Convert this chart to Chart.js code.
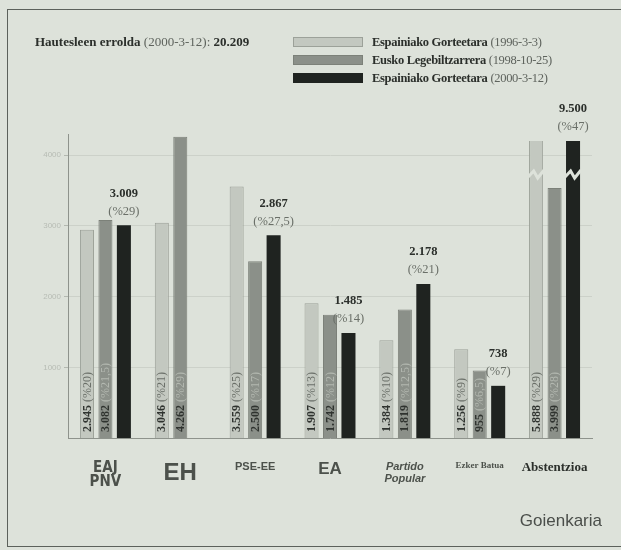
<!DOCTYPE html>
<html>
<head>
<meta charset="utf-8">
<script src="https://cdn.jsdelivr.net/npm/chart.js@4/dist/chart.umd.min.js"></script>
<style>
  html, body { margin: 0; padding: 0; }
  body { width: 621px; height: 550px; overflow: hidden; background: #dde2da; position: relative; font-family: 'Liberation Serif', serif; color: #2b2f2b; }
  #frame { position: absolute; left: 7px; top: 9px; width: 700px; height: 536px; border: 1px solid #5c615b; border-right: none; }
  #wrap { position: absolute; left: 0; top: 0; width: 621px; height: 550px; }
  #title { position: absolute; left: 35px; top: 34px; font-size: 13px; white-space: nowrap; }
  #legend { position: absolute; left: 293px; top: 33px; font-size: 12.5px; letter-spacing: -0.3px; }
  .row { height: 18px; display: flex; align-items: center; white-space: nowrap; }
  .box { width: 70px; height: 10px; margin-right: 9px; box-sizing: border-box; }
  b { font-weight: bold; }
  .soft { color: #5e635d; }
  #source { position: absolute; right: 19px; top: 511px; font-family: 'Liberation Sans', sans-serif; font-size: 17px; color: #4a4e4a; }
</style>
</head>
<body>
<div id="frame"></div>
<div id="wrap"><canvas id="chart" width="621" height="550"></canvas></div>
<div id="title"><b>Hautesleen errolda</b> <span class="soft">(2000-3-12):</span> <b>20.209</b></div>
<div id="legend"></div>
<div id="source">Goienkaria</div>
<script>
// zerrendak: alderdiak eta hauteskundeak
const categories = ['EAJ-PNV', 'EH', 'PSE-EE', 'EA', 'PP', 'EB', 'Abstentzioa'];
const tickLabels = [['EAJ', 'PNV'], ['EH'], ['PSE-EE'], ['EA'], ['Partido', 'Popular'], ['Ezker Batua'], ['Abstentzioa']];
const seriesNames = ['Espainiako Gorteetara', 'Eusko Legebiltzarrera', 'Espainiako Gorteetara'];
const seriesDates = ['(1996-3-3)', '(1998-10-25)', '(2000-3-12)'];

const votes1996 = [2945, 3046, 3559, 1907, 1384, 1256, 5888];
const votes1998 = [3082, 4262, 2500, 1742, 1819, 955, 3999];
const votes2000 = [3009, null, 2867, 1485, 2178, 738, 9500];

const pct1996 = ['(%20)', '(%21)', '(%25)', '(%13)', '(%10)', '(%9)', '(%29)'];
const pct1998 = ['(%21,5)', '(%29)', '(%17)', '(%12)', '(%12,5)', '(%6,5)', '(%28)'];
const pct2000 = ['(%29)', '', '(%27,5)', '(%14)', '(%21)', '(%7)', '(%47)'];

const yTickValues = [1000, 2000, 3000, 4000];

const fills = ['#c3c8c0', '#8b9089', '#1f2320'];
const borders = ['#9ca199', '#7c8179', '#1f2320'];
const bg = '#dde2da';

const allVotes = [votes1996, votes1998, votes2000];
const allPct = [pct1996, pct1998, pct2000];
const absIdx = categories.length - 1;

// legenda
const legend = document.getElementById('legend');
seriesNames.forEach((name, i) => {
    const row = document.createElement('div');
    row.className = 'row';
    row.innerHTML = `<div class="box" style="background:${fills[i]};border:1px solid ${borders[i]}"></div>` +
        `<b>${name}</b>&nbsp;<span class="soft">${seriesDates[i]}</span>`;
    legend.appendChild(row);
});

function fmt(v) {
    return v.toString().replace(/\B(?=(\d{3})+(?!\d))/g, '.');
}

// alderdiak 'y' ardatzean, abstentzioa 'y2' ardatzean (eskala moztua)
const datasets = [];
allVotes.forEach((vals, i) => {
    datasets.push({
        label: seriesNames[i] + ' ' + seriesDates[i],
        data: vals.map((v, j) => j === absIdx ? null : v),
        backgroundColor: fills[i],
        borderColor: borders[i],
        borderWidth: i === 2 ? 0 : 1,
        stack: 's' + i,
        yAxisID: 'y',
        series: i
    });
});
allVotes.forEach((vals, i) => {
    datasets.push({
        label: seriesNames[i] + ' ' + seriesDates[i],
        data: vals.map((v, j) => j === absIdx ? v : null),
        backgroundColor: fills[i],
        borderColor: borders[i],
        borderWidth: i === 2 ? 0 : 1,
        stack: 's' + i,
        yAxisID: 'y2',
        clip: { left: 0, top: -7, right: 0, bottom: 0 },
        series: i
    });
});

const labelPlugin = {
    id: 'barLabels',
    afterDatasetsDraw(chart) {
        const ctx = chart.ctx;
        const area = chart.chartArea;
        chart.data.datasets.forEach((ds, di) => {
            const meta = chart.getDatasetMeta(di);
            const s = ds.series;
            meta.data.forEach((el, j) => {
                const v = ds.data[j];
                if (v == null) return;
                const top = Math.max(el.y, area.top + 7);
                ctx.save();
                if (s < 2) {
                    // testu bertikala barraren barruan
                    ctx.translate(el.x, area.bottom - 6);
                    ctx.rotate(-Math.PI / 2);
                    ctx.textAlign = 'left';
                    ctx.textBaseline = 'middle';
                    ctx.font = 'bold 12px "Liberation Serif"';
                    ctx.fillStyle = '#2f332f';
                    const num = fmt(v);
                    ctx.fillText(num, 0, 0.5);
                    const w = ctx.measureText(num).width;
                    ctx.font = '12px "Liberation Serif"';
                    ctx.fillStyle = s === 0 ? '#6a6f68' : '#b3b8b0';
                    ctx.fillText(allPct[s][j], w + 3, 0.5);
                } else {
                    ctx.textAlign = 'center';
                    ctx.textBaseline = 'middle';
                    ctx.font = 'bold 12.5px "Liberation Serif"';
                    ctx.fillStyle = '#2b2f2b';
                    ctx.fillText(fmt(v), el.x, top - 32);
                    ctx.font = '12.5px "Liberation Serif"';
                    ctx.fillStyle = '#6a6f68';
                    ctx.fillText(allPct[s][j], el.x, top - 14);
                }
                ctx.restore();
            });
            // etena abstentzioko barra moztuetan
            if (ds.yAxisID === 'y2' && s !== 1) {
                const el = meta.data[absIdx];
                const yb = area.top + 40;
                const l = el.x - el.width / 2 - 1;
                const r = el.x + el.width / 2 + 1;
                ctx.save();
                ctx.strokeStyle = bg;
                ctx.lineWidth = 3;
                ctx.beginPath();
                ctx.moveTo(l, yb + 3);
                ctx.lineTo(l + (r - l) * 0.35, yb - 3);
                ctx.lineTo(l + (r - l) * 0.6, yb + 4);
                ctx.lineTo(r, yb - 4);
                ctx.stroke();
                ctx.restore();
            }
        });
    }
};

function tickFont(ctx) {
    const i = ctx.index;
    if (i === 0) return { family: '"DejaVu Sans Condensed"', size: 15, weight: 'bold', lineHeight: 0.95 };
    if (i === 1) return { family: '"Liberation Sans"', size: 24, weight: 'bold', lineHeight: 1 };
    if (i === 2) return { family: '"Liberation Sans"', size: 11, weight: 'bold', lineHeight: 1 };
    if (i === 3) return { family: '"Liberation Sans"', size: 17, weight: 'bold', lineHeight: 1 };
    if (i === 4) return { family: '"Liberation Sans"', size: 11, weight: 'bold', style: 'italic', lineHeight: 1.1 };
    if (i === 5) return { family: '"Liberation Sans Narrow"', size: 9, weight: 'bold', lineHeight: 1 };
    return { family: '"Liberation Serif"', size: 13, weight: 'bold', lineHeight: 1 };
}

const chart = new Chart(document.getElementById('chart'), {
    type: 'bar',
    data: { labels: categories, datasets },
    plugins: [labelPlugin],
    options: {
        responsive: false,
        animation: false,
        categoryPercentage: 0.74,
        barPercentage: 0.76,
        layout: { padding: { left: 32, right: 29, top: 134, bottom: 32 } },
        plugins: {
            legend: { display: false },
            tooltip: { enabled: false }
        },
        scales: {
            x: {
                grid: { display: false },
                border: { display: true, color: '#8e938c', width: 1 },
                afterFit(s) { s.height = 80; },
                ticks: {
                    padding: 15,
                    maxRotation: 0,
                    autoSkip: false,
                    color: (c) => c.index === 6 ? '#2b2f2b' : '#4c514b',
                    font: tickFont,
                    callback: (v, i) => tickLabels[i]
                }
            },
            y: {
                min: 0,
                max: 4300,
                stacked: false,
                afterFit(s) { s.width = 36; },
                afterBuildTicks(s) { s.ticks = yTickValues.map(v => ({ value: v })); },
                grid: { color: '#ccd1c9', tickLength: 4, tickColor: '#b3b8b0' },
                border: { display: true, color: '#8e938c', width: 1 },
                ticks: {
                    color: '#b7bcb4',
                    padding: 3,
                    font: { family: '"Liberation Sans"', size: 8 },
                    callback: (v) => String(v)
                }
            },
            y2: {
                display: false,
                min: 0,
                max: 4863,
                stacked: false,
                grid: { display: false }
            }
        }
    }
});
</script>
</body>
</html>
